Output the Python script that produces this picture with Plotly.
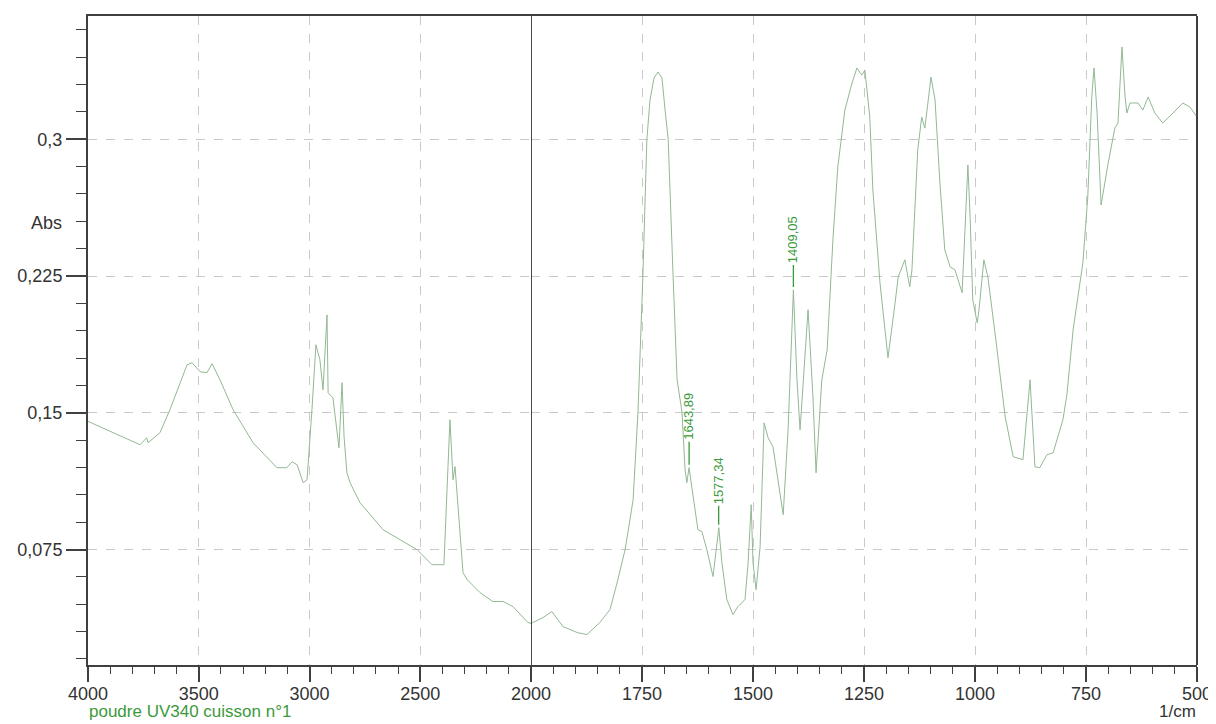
import plotly.graph_objects as go

# ---- data: FTIR spectrum (wavenumber in 1/cm, absorbance) ----
# high wavenumber part (4000 -> 2000), drawn on the compressed left scale
wn_high = [4000, 3765, 3735, 3729, 3675, 3630, 3553, 3530, 3494, 3463, 3440, 3404,
           3345, 3255, 3147, 3102, 3079, 3056, 3029, 3011, 2989, 2971, 2953, 2939,
           2921, 2916, 2894, 2867, 2853, 2844, 2831, 2817, 2772, 2668, 2515, 2447,
           2393, 2366, 2352, 2343, 2307, 2289, 2230, 2172, 2126, 2081, 2014, 2000]
abs_high = [0.1453, 0.1325, 0.1363, 0.1336, 0.1391, 0.1517, 0.1763, 0.1774, 0.1725,
            0.1720, 0.1769, 0.1681, 0.1517, 0.1336, 0.1199, 0.1199, 0.1232, 0.1215,
            0.1117, 0.1133, 0.1517, 0.1873, 0.1791, 0.1626, 0.2037, 0.1610, 0.1582,
            0.1308, 0.1665, 0.1369, 0.1171, 0.1117, 0.1007, 0.0859, 0.0750, 0.0667,
            0.0667, 0.1462, 0.1133, 0.1205, 0.0624, 0.0586, 0.0514, 0.0465, 0.0465,
            0.0437, 0.0350, 0.0345]

# low wavenumber part (2000 -> 500), drawn on the expanded right scale
wn_low = [2000, 1973, 1953, 1928, 1896, 1874, 1845, 1822, 1806, 1788, 1770, 1759,
          1748, 1739, 1732, 1723, 1714, 1705, 1698, 1691, 1680, 1671, 1660, 1653,
          1649, 1644, 1637, 1624, 1615, 1604, 1590, 1577, 1570, 1559, 1545, 1534,
          1518, 1511, 1504, 1500, 1493, 1484, 1475, 1466, 1455, 1432, 1421, 1409,
          1401, 1394, 1376, 1365, 1358, 1345, 1333, 1320, 1309, 1293, 1277, 1266,
          1255, 1248, 1237, 1230, 1214, 1196, 1180, 1173, 1158, 1151, 1147, 1142,
          1136, 1129, 1120, 1113, 1099, 1090, 1079, 1068, 1056, 1045, 1029, 1023,
          1016, 1011, 1005, 995, 991, 980, 971, 955, 932, 914, 892, 876, 865, 854,
          838, 824, 802, 793, 779, 757, 746, 737, 732, 725, 716, 700, 685, 678, 669,
          662, 658, 651, 633, 622, 610, 595, 577, 554, 532, 516, 500]
abs_low = [0.0345, 0.0377, 0.0410, 0.0328, 0.0295, 0.0284, 0.0350, 0.0421, 0.0569,
           0.0750, 0.1023, 0.1505, 0.2251, 0.3000, 0.3215, 0.3336, 0.3369, 0.3336,
           0.3160, 0.3000, 0.2250, 0.1681, 0.1506, 0.1188, 0.1117, 0.1199, 0.1078,
           0.0859, 0.0848, 0.0750, 0.0602, 0.0870, 0.0678, 0.0476, 0.0393, 0.0437,
           0.0476, 0.0678, 0.0996, 0.0678, 0.0530, 0.0766, 0.1445, 0.1363, 0.1314,
           0.0941, 0.1407, 0.2174, 0.1681, 0.1407, 0.2065, 0.1588, 0.1171, 0.1681,
           0.1845, 0.2448, 0.2848, 0.3161, 0.3308, 0.3391, 0.3352, 0.3379, 0.3122,
           0.2722, 0.2213, 0.1802, 0.2103, 0.2245, 0.2339, 0.2245, 0.2191, 0.2284,
           0.2574, 0.2941, 0.3122, 0.3061, 0.3341, 0.3215, 0.2761, 0.2393, 0.2300,
           0.2284, 0.2158, 0.2465, 0.2859, 0.2574, 0.2119, 0.1993, 0.2065, 0.2339,
           0.2245, 0.1939, 0.1478, 0.1259, 0.1243, 0.1681, 0.1204, 0.1199, 0.1270,
           0.1281, 0.1462, 0.1599, 0.1955, 0.2322, 0.2684, 0.3232, 0.3391, 0.3144,
           0.2640, 0.2870, 0.3062, 0.3089, 0.3506, 0.3232, 0.3144, 0.3199, 0.3199,
           0.3160, 0.3232, 0.3144, 0.3089, 0.3144, 0.3199, 0.3177, 0.3122]

# labelled peaks
peak_wn = [1643.89, 1577.34, 1409.05]
peak_abs = [0.1199, 0.0870, 0.2174]
peak_text = ["1643,89", "1577,34", "1409,05"]
peak_ay = [-51, -47, -50]

y_ticks = [0.075, 0.15, 0.225, 0.3]
y_ticktext = ["0,075", "0,15", "0,225", "0,3"]
x_ticks_high = [4000, 3500, 3000, 2500]
x_ticks_low = [2000, 1750, 1500, 1250, 1000, 750, 500]

sample_name = "poudre UV340 cuisson n°1"

# ---- styling ----
FONT = "Liberation Sans, Arial, sans-serif"
LINE_COLOR = "#93b893"
AXIS_COLOR = "#404040"
GRID_COLOR = "#c9c9c9"
GREEN = "#3b9a3b"

# the html page adds an 8 px body margin; compensate so the plot lands where the reference has it
OFF = 8
W, H = 1216 - OFF, 724 - OFF
ML, MT = 88 - OFF, 16 - OFF
PW, PH = 1109, 649.5
MR = W - ML - PW
MB = H - MT - PH
split = 443 / 1109  # position of 2000 1/cm (scale break)

fig = go.Figure()
fig.add_trace(go.Scatter(x=wn_high, y=abs_high, mode="lines", xaxis="x", yaxis="y",
                         line=dict(color=LINE_COLOR, width=1), showlegend=False,
                         hoverinfo="x+y"))
fig.add_trace(go.Scatter(x=wn_low, y=abs_low, mode="lines", xaxis="x2", yaxis="y",
                         line=dict(color=LINE_COLOR, width=1), showlegend=False,
                         hoverinfo="x+y"))

TICKFONT = dict(family=FONT, size=18, color="#333333")

common_x = dict(
    showline=True, linecolor=AXIS_COLOR, linewidth=2, mirror=True,
    ticks="outside", ticklen=15, tickwidth=1.5, tickcolor=AXIS_COLOR,
    ticklabelstandoff=-4,
    showgrid=True, gridcolor=GRID_COLOR, griddash="dash", gridwidth=1,
    zeroline=False, tickfont=TICKFONT, anchor="y",
)

fig.update_layout(
    width=W, height=H,
    margin=dict(l=ML, r=MR, t=MT, b=MB, autoexpand=False),
    paper_bgcolor="white", plot_bgcolor="white",
    xaxis=dict(domain=[0, split], range=[4000, 2000], tickvals=x_ticks_high,
               ticktext=[str(v) for v in x_ticks_high],
               minor=dict(ticks="outside", ticklen=7, tickwidth=1.2, tickcolor=AXIS_COLOR,
                          dtick=100, tick0=0, showgrid=False),
               **common_x),
    xaxis2=dict(domain=[split, 1], range=[2000, 500], tickvals=x_ticks_low,
                ticktext=[str(v) for v in x_ticks_low],
                minor=dict(ticks="outside", ticklen=7, tickwidth=1.2, tickcolor=AXIS_COLOR,
                           dtick=50, tick0=0, showgrid=False),
                **common_x),
    yaxis=dict(range=[0.0117, 0.3676], tickvals=y_ticks, ticktext=y_ticktext,
               showline=True, linecolor=AXIS_COLOR, linewidth=2,
               ticks="outside", ticklen=20, tickwidth=1.5, tickcolor=AXIS_COLOR,
               minor=dict(ticks="outside", ticklen=10, tickwidth=1.2, tickcolor=AXIS_COLOR,
                          dtick=0.015, tick0=0, showgrid=False),
               showgrid=True, gridcolor=GRID_COLOR, griddash="dash", gridwidth=1,
               zeroline=False, tickfont=TICKFONT),
    showlegend=False,
)

# right border of the frame and the scale-break line at 2000 1/cm
fig.add_shape(type="line", xref="paper", yref="paper", x0=1, x1=1, y0=0, y1=1,
              line=dict(color=AXIS_COLOR, width=2))
fig.add_shape(type="line", xref="x2", yref="paper", x0=2000, x1=2000, y0=0, y1=1,
              line=dict(color="#111111", width=1.5))

# peak labels
for wn, a, txt, ay in zip(peak_wn, peak_abs, peak_text, peak_ay):
    fig.add_annotation(x=wn, y=a, xref="x2", yref="y", text=txt, textangle=-90,
                       showarrow=True, arrowhead=0, arrowwidth=1.3, arrowcolor=GREEN,
                       ax=0, ay=ay, standoff=3,
                       font=dict(family=FONT, size=13, color=GREEN))

# axis titles and sample name (positions given in screen pixels of the reference)
def px_to_paper(px, py):
    return (px - OFF - ML) / PW, (H - MB - (py - OFF)) / PH

ax_x, ax_y = px_to_paper(46, 223)
fig.add_annotation(x=ax_x, y=ax_y, xref="paper", yref="paper", text="Abs", showarrow=False,
                   xanchor="center", yanchor="middle", font=TICKFONT)
_, bot_y = px_to_paper(0, 702)
fig.add_annotation(x=1.0, y=bot_y, xref="paper", yref="paper", text="1/cm", showarrow=False,
                   xanchor="right", yanchor="top", borderpad=0,
                   font=dict(family=FONT, size=17, color="#333333"))
fig.add_annotation(x=0.0, y=bot_y, xref="paper", yref="paper", text=sample_name,
                   showarrow=False, xanchor="left", yanchor="top", borderpad=0,
                   font=dict(family=FONT, size=17, color=GREEN))

fig.write_html("out.html")
